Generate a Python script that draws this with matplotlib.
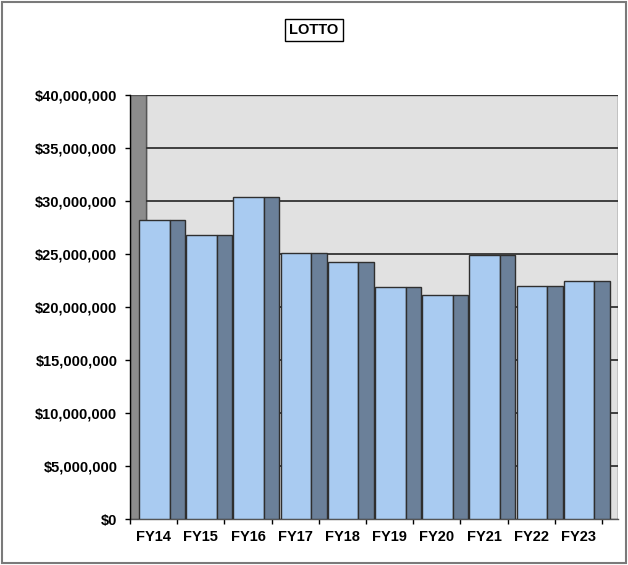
import matplotlib
matplotlib.use("Agg")
import matplotlib.pyplot as plt
from matplotlib.patches import Rectangle
import numpy as np

categories = ['FY14', 'FY15', 'FY16', 'FY17', 'FY18', 'FY19', 'FY20', 'FY21', 'FY22', 'FY23']
sales = [28.2e6, 26.8e6, 30.35e6, 25.06e6, 24.25e6, 21.85e6, 21.17e6, 24.92e6, 21.95e6, 22.45e6]
yticks = [0, 5e6, 10e6, 15e6, 20e6, 25e6, 30e6, 35e6, 40e6]
ytick_labels = ['$0', '$5,000,000', '$10,000,000', '$15,000,000', '$20,000,000',
                '$25,000,000', '$30,000,000', '$35,000,000', '$40,000,000']
title = 'LOTTO'

plt.rcParams['font.family'] = ['Liberation Sans', 'DejaVu Sans']
plt.rcParams['font.weight'] = 'bold'

W, H = 628, 565
fig = plt.figure(figsize=(W / 100, H / 100), dpi=100)

# figure border
fig.patches.append(Rectangle((2 / W, 2 / H), (626 - 2) / W, (563 - 2) / H, transform=fig.transFigure,
                             fill=False, edgecolor='#7a7a7a', linewidth=1.5))

left, right, top, bottom = 130, 618, 95, 519
ax = fig.add_axes([left / W, 1 - bottom / H, (right - left) / W, (bottom - top) / H])
cat_px = 47.2
xmax = (right - left) / cat_px
depth = 16 / cat_px
ax.set_xlim(0, xmax)
ax.set_ylim(0, 40e6)
ax.set_facecolor('none')

# back wall and side wall
ax.add_patch(Rectangle((depth, 0), xmax - depth, 40e6, facecolor='#e1e1e1', edgecolor='#444444',
                       linewidth=1.0, zorder=0))
ax.add_patch(Rectangle((0, 0), depth, 40e6, facecolor='#8c8c8c', edgecolor='#555555',
                       linewidth=1.0, zorder=0.5))
ax.hlines(yticks[1:], depth, xmax, color='#333333', linewidth=1.3, zorder=1)

x = np.arange(len(categories))
front_off = 9 / cat_px
front_w = 30.5 / cat_px
side_w = 15.5 / cat_px
ax.bar(x + front_off, sales, width=front_w, align='edge', color='#a9cbf1',
       edgecolor='#2f2f2f', linewidth=1.0, zorder=3)
ax.bar(x + front_off + front_w, sales, width=side_w, align='edge', color='#6b8099',
       edgecolor='#2f2f2f', linewidth=1.0, zorder=3)

for s in ['top', 'right']:
    ax.spines[s].set_visible(False)
ax.spines['left'].set_color('black')
ax.spines['left'].set_linewidth(1.0)
ax.spines['bottom'].set_color('#555555')
ax.spines['bottom'].set_linewidth(1.0)
ax.spines['left'].set_zorder(4)

fs = 10.5
ax.set_yticks(yticks)
ax.set_yticklabels(ytick_labels, fontsize=fs, fontweight='bold')
ax.tick_params(axis='y', direction='out', length=3.6, width=1.0, pad=5.5, color='black')

ax.set_xticks(np.arange(len(categories) + 1))
ax.set_xticklabels([''] * (len(categories) + 1))
ax.tick_params(axis='x', which='major', direction='out', length=3.6, width=1.0, color='black')
ax.set_xticks(x + 0.5, minor=True)
ax.set_xticklabels(categories, minor=True, fontsize=fs, fontweight='bold')
ax.tick_params(axis='x', which='minor', length=0, pad=8)

fig.text(314 / W, 1 - 30 / H, title, ha='center', va='center', fontsize=fs, fontweight='bold',
         bbox=dict(boxstyle='square,pad=0.3', facecolor='white', edgecolor='black', linewidth=1.0))

fig.savefig('out.png', dpi=100)
